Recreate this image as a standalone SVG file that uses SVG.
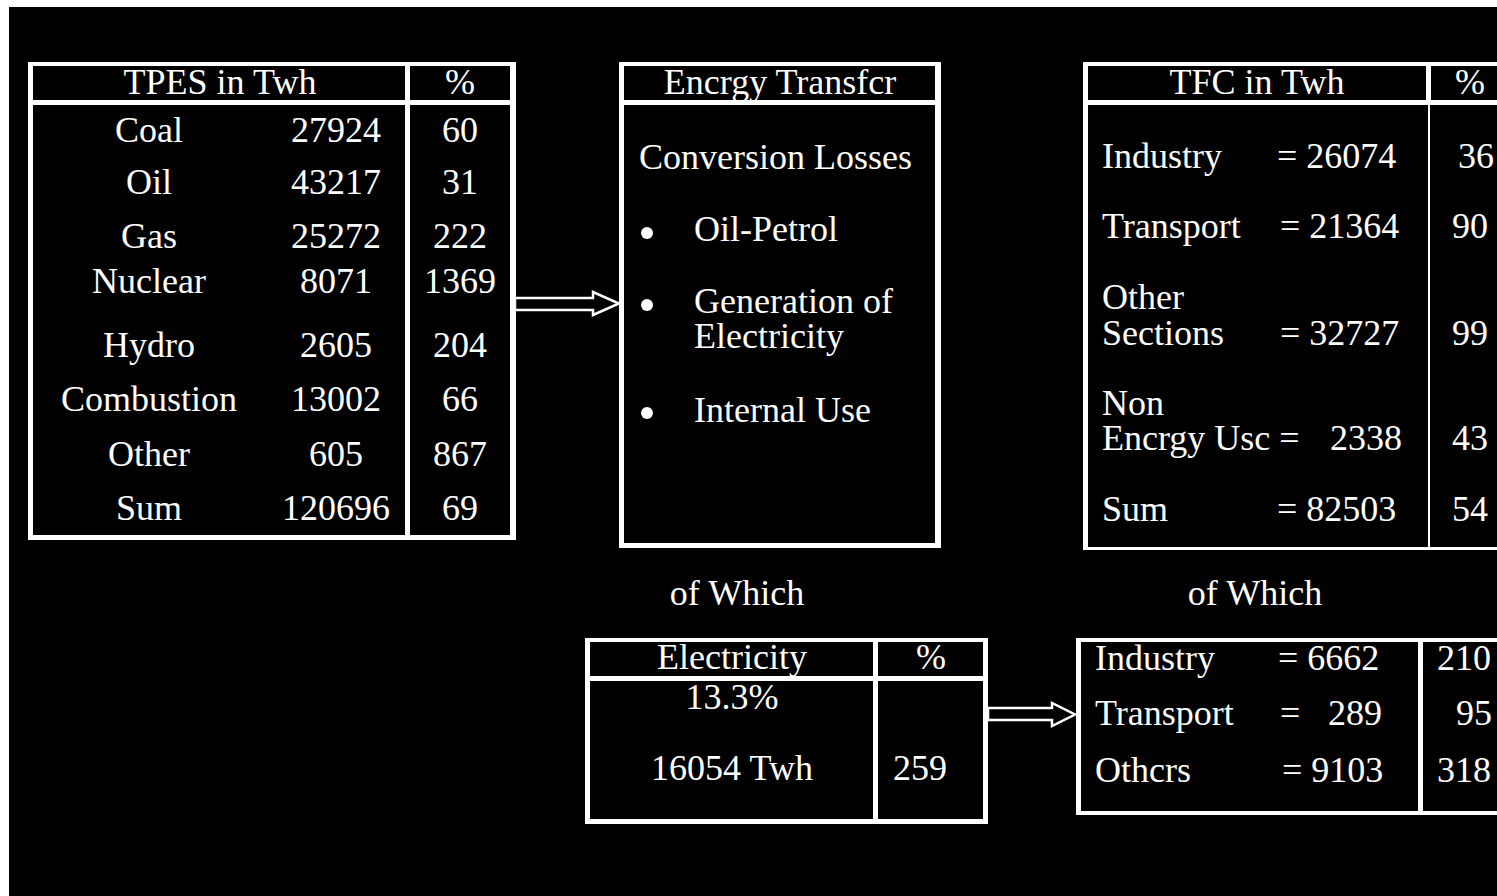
<svg xmlns="http://www.w3.org/2000/svg" width="1497" height="896" viewBox="0 0 1497 896">
<style>
.frame{fill:#ffffff}
.cell{fill:#000000}
text{font-family:"Liberation Serif","Times New Roman",serif;font-size:36px;fill:#ffffff}
.c{text-anchor:middle}
.bullet{fill:#ffffff}
.arrow{fill:#000000;stroke:#ffffff;stroke-width:2.5;stroke-linejoin:miter}
</style>
<rect x="0" y="0" width="1497" height="896" fill="#ffffff"/>
<rect x="9" y="7" width="1488" height="889" fill="#000000"/>

<g id="tpes">
<rect class="frame" x="28" y="62" width="488" height="478"/>
<rect class="cell" x="33" y="66" width="372" height="34"/>
<rect class="cell" x="410" y="66" width="100" height="34"/>
<rect class="cell" x="33" y="105" width="372" height="430"/>
<rect class="cell" x="410" y="105" width="100" height="430"/>
<text class="c" x="220" y="94">TPES in Twh</text>
<text class="c" x="460" y="94">%</text>
<text class="c" x="149" y="142">Coal</text><text class="c" x="336" y="142">27924</text><text class="c" x="460" y="142">60</text>
<text class="c" x="149" y="194">Oil</text><text class="c" x="336" y="194">43217</text><text class="c" x="460" y="194">31</text>
<text class="c" x="149" y="248">Gas</text><text class="c" x="336" y="248">25272</text><text class="c" x="460" y="248">222</text>
<text class="c" x="149" y="293">Nuclear</text><text class="c" x="336" y="293">8071</text><text class="c" x="460" y="293">1369</text>
<text class="c" x="149" y="357">Hydro</text><text class="c" x="336" y="357">2605</text><text class="c" x="460" y="357">204</text>
<text class="c" x="149" y="411">Combustion</text><text class="c" x="336" y="411">13002</text><text class="c" x="460" y="411">66</text>
<text class="c" x="149" y="466">Other</text><text class="c" x="336" y="466">605</text><text class="c" x="460" y="466">867</text>
<text class="c" x="149" y="520">Sum</text><text class="c" x="336" y="520">120696</text><text class="c" x="460" y="520">69</text>
</g>

<g id="energy-transfer">
<rect class="frame" x="619" y="62" width="322" height="486"/>
<rect class="cell" x="624" y="66" width="311" height="34"/>
<rect class="cell" x="624" y="105" width="311" height="438"/>
<text class="c" x="780" y="94">Encrgy Transfcr</text>
<text x="639" y="169">Conversion Losses</text>
<circle class="bullet" cx="647" cy="233" r="6"/>
<text x="694" y="241">Oil-Petrol</text>
<circle class="bullet" cx="647" cy="305" r="6"/>
<text x="694" y="313">Generation of</text>
<text x="694" y="348">Electricity</text>
<circle class="bullet" cx="647" cy="413" r="6"/>
<text x="694" y="422">Internal Use</text>
</g>

<g id="tfc">
<rect class="frame" x="1083" y="62" width="440" height="488"/>
<rect class="cell" x="1088" y="66" width="338" height="34"/>
<rect class="cell" x="1431" y="66" width="90" height="34"/>
<rect class="cell" x="1088" y="105" width="340" height="442"/>
<rect class="cell" x="1430" y="105" width="91" height="442"/>
<text class="c" x="1257" y="94">TFC in Twh</text>
<text class="c" x="1470" y="94">%</text>
<text x="1102" y="168">Industry</text><text x="1277" y="168">= 26074</text><text x="1458" y="168">36</text>
<text x="1102" y="238">Transport</text><text x="1280" y="238">= 21364</text><text x="1452" y="238">90</text>
<text x="1102" y="309">Other</text>
<text x="1102" y="345">Sections</text><text x="1280" y="345">= 32727</text><text x="1452" y="345">99</text>
<text x="1102" y="415">Non</text>
<text x="1102" y="450">Encrgy Usc =</text><text x="1330" y="450">2338</text><text x="1452" y="450">43</text>
<text x="1102" y="521">Sum</text><text x="1277" y="521">= 82503</text><text x="1452" y="521">54</text>
</g>

<g id="label-which-1"><text class="c" x="737" y="605">of Which</text></g>
<g id="label-which-2"><text class="c" x="1255" y="605">of Which</text></g>

<g id="electricity">
<rect class="frame" x="585" y="638" width="403" height="186"/>
<rect class="cell" x="590" y="642" width="283" height="34"/>
<rect class="cell" x="878" y="642" width="105" height="34"/>
<rect class="cell" x="590" y="681" width="283" height="138"/>
<rect class="cell" x="878" y="681" width="105" height="138"/>
<text class="c" x="732" y="669">Electricity</text>
<text class="c" x="931" y="669">%</text>
<text class="c" x="732" y="709">13.3%</text>
<text class="c" x="732" y="780">16054 Twh</text>
<text x="893" y="780">259</text>
</g>

<g id="electricity-use">
<rect class="frame" x="1076" y="638" width="450" height="177"/>
<rect class="cell" x="1081" y="642" width="337" height="169"/>
<rect class="cell" x="1423" y="642" width="98" height="169"/>
<text x="1095" y="670">Industry</text><text x="1278" y="670">= 6662</text><text x="1437" y="670">210</text>
<text x="1095" y="725">Transport</text><text x="1280" y="725">=</text><text x="1328" y="725">289</text><text x="1456" y="725">95</text>
<text x="1095" y="782">Othcrs</text><text x="1282" y="782">= 9103</text><text x="1437" y="782">318</text>
</g>

<g id="connectors">
<polygon class="arrow" points="515,298 593,298 593,292 619,303.5 593,315 593,310 515,310"/>
<polygon class="arrow" points="988,708 1052,708 1052,703 1075,714.5 1052,726 1052,720 988,720"/>
</g>
</svg>
